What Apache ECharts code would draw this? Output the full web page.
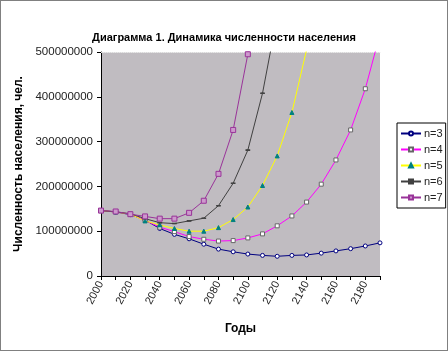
<!DOCTYPE html>
<html>
<head>
<meta charset="utf-8">
<script src="https://cdn.jsdelivr.net/npm/echarts@6/dist/echarts.min.js"></script>
<style>
  html, body { margin: 0; padding: 0; background: #fff; }
  #main { width: 446px; height: 349px; border: 1px solid #808080; }
</style>
</head>
<body>
<div id="main"></div>
<script>
  // годы (ось X)
  var years = ['2000','2010','2020','2030','2040','2050','2060','2070','2080','2090',
               '2100','2110','2120','2130','2140','2150','2160','2170','2180','2190']
  // численность, млн чел.
  var n3 = [146,143,137,125,106,93,83,71,60,54,49,46,44,46,47,51,56,61,67,74]
  var n4 = [146,143,138,124,109,99,88,82,78,79,85,94,112,134,165,205,259,326,418,540]
  var n5 = [146,143,138,123,114,106,100,100,108,126,154,202,268,365,505,700,null,null,null,null]
  var n6 = [146,143,139,128,119,117,123,129,157,207,281,408,580,null,null,null,null,null,null,null]
  var n7 = [146,144,138,133,128,128,141,168,228,326,495,750,null,null,null,null,null,null,null,null]

  var toPeople = function (arr) {
    return arr.map(function (v) { return v === null ? null : v * 1000000 })
  }

  var font = 'Liberation Sans, Arial, sans-serif'
  var chart = echarts.init(document.getElementById('main'))

  var mkSeries = function (name, data, color, symbol, size, fill, border) {
    return {
      name: name,
      type: 'line',
      data: toPeople(data),
      symbol: symbol,
      symbolSize: size,
      showSymbol: true,
      clip: true,
      lineStyle: { color: color, width: 1 },
      itemStyle: { color: fill, borderColor: border, borderWidth: 1 },
      emphasis: { disabled: true },
      z: 3
    }
  }

  chart.setOption({
    animation: false,
    textStyle: { fontFamily: font },
    title: {
      text: 'Диаграмма 1. Динамика численности населения',
      left: 'center',
      top: 26,
      textStyle: { fontSize: 11, fontWeight: 'bold', color: '#000', fontFamily: font }
    },
    grid: {
      left: 100,
      right: 67,
      top: 51,
      bottom: 74,
      show: true,
      backgroundColor: '#c0bcc1',
      borderWidth: 0
    },
    legend: {
      orient: 'vertical',
      left: 396,
      top: 122,
      width: 47,
      padding: [4, 3, 4, 3],
      itemGap: 3,
      itemWidth: 20,
      itemHeight: 5,
      borderColor: '#000',
      borderWidth: 1,
      textStyle: { fontSize: 11, color: '#222', fontFamily: font, lineHeight: 13, padding: [0, 0, 0, -2] },
      data: ['n=3', 'n=4', 'n=5', 'n=6', 'n=7']
    },
    xAxis: [{
      type: 'category',
      data: years,
      boundaryGap: false,
      name: 'Годы',
      nameLocation: 'middle',
      nameGap: 47,
      nameTextStyle: { fontSize: 12, fontWeight: 'bold', color: '#000', fontFamily: font },
      axisLine: { lineStyle: { color: '#000', width: 1 } },
      axisTick: { interval: 0, length: 4, lineStyle: { color: '#000' } },
      axisLabel: { interval: 1, rotate: 62, fontSize: 11, color: '#222', margin: 6, fontFamily: font },
      splitLine: { show: false }
    }, {
      type: 'category',
      data: years,
      position: 'top',
      boundaryGap: false,
      axisLine: { lineStyle: { color: '#e8e8e8', type: 'dotted', width: 1 } },
      axisTick: { show: false },
      axisLabel: { show: false },
      splitLine: { show: false }
    }],
    yAxis: {
      type: 'value',
      min: 0,
      max: 500000000,
      interval: 100000000,
      name: 'Численность населения, чел.',
      nameLocation: 'middle',
      nameGap: 72,
      nameRotate: 90,
      nameTextStyle: { fontSize: 12, fontWeight: 'bold', color: '#000', fontFamily: font },
      axisLine: { show: true, lineStyle: { color: '#000', width: 1 } },
      axisTick: { show: true, length: 4, lineStyle: { color: '#000' } },
      axisLabel: {
        fontSize: 11.5,
        color: '#222',
        margin: 8,
        fontFamily: font,
        formatter: function (v) { return String(v) }
      },
      splitLine: { show: false }
    },
    series: [
      mkSeries('n=3', n3, '#000080', 'circle', 4, '#ffffff', '#000080'),
      mkSeries('n=4', n4, '#ff00ff', 'rect', 4, '#ffffff', '#666666'),
      mkSeries('n=5', n5, '#ffff00', 'triangle', 4, '#008080', '#008080'),
      mkSeries('n=6', n6, '#404040', 'rect', [3, 1], '#404040', '#404040'),
      mkSeries('n=7', n7, '#993399', 'rect', 5, '#cc99cc', '#993399')
    ]
  })
</script>
</body>
</html>
